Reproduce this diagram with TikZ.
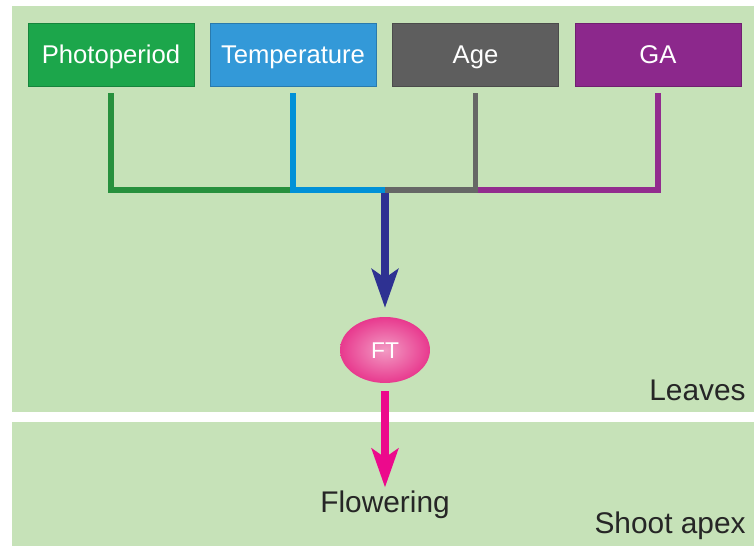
\documentclass[tikz,border=0pt]{standalone}
\usepackage{fontspec}
\setmainfont{Liberation Sans}
\usetikzlibrary{arrows.meta,shapes.geometric}

\definecolor{panelgreen}{HTML}{C6E2B8}
\definecolor{photofill}{HTML}{1CA64B}
\definecolor{tempfill}{HTML}{3399D8}
\definecolor{agefill}{HTML}{5E5E5E}
\definecolor{gafill}{HTML}{8C288C}
\definecolor{photoline}{HTML}{27903D}
\definecolor{templine}{HTML}{0091D7}
\definecolor{ageline}{HTML}{666766}
\definecolor{galine}{HTML}{922C8E}
\definecolor{navyarrow}{HTML}{2E3192}
\definecolor{pinkarrow}{HTML}{EC0A8C}
\definecolor{ftpink}{HTML}{E8398E}
\definecolor{ftlight}{HTML}{F29AC3}

\tikzset{
  factor/.style={minimum width=3.32cm, minimum height=1.26cm, inner sep=0pt,
    text=white, font=\fontsize{14.6}{17}\selectfont, text height=10.4pt, text depth=0pt},
  link/.style={line width=3.4pt, line cap=butt, line join=miter},
  bigarrow/.style={line width=4.5pt, -{Stealth[length=22pt, width=15pt, inset=5pt]}},
  tissue/.style={font=\fontsize{17}{20}\selectfont, text=black!85, inner sep=0pt}
}

\begin{document}
\begin{tikzpicture}[x=0.02cm, y=-0.02cm]
    \useasboundingbox (0,0) rectangle (754,546);

    % === tissue panels ===
    \fill[panelgreen] (12,6) rectangle (754,412);
    \fill[panelgreen] (12,422) rectangle (754,546);

    % === input pathways ===
    \node[factor, fill=photofill, draw=photofill!80!black] (photo) at (111,54.5) {Photoperiod};
    \node[factor, fill=tempfill, draw=tempfill!80!black] (temp) at (293,54.5) {Temperature};
    \node[factor, fill=agefill, draw=agefill!80!black] (age) at (475.5,54.5) {Age};
    \node[factor, fill=gafill, draw=gafill!80!black] (ga) at (658,54.5) {GA};

    % === FT and output ===
    \node[ellipse, minimum width=1.8cm, minimum height=1.32cm, inner sep=0pt,
      inner color=ftlight, outer color=ftpink, text=white,
      font=\fontsize{13}{15}\selectfont, text height=9.3pt, text depth=0pt] (ft) at (385,350) {FT};
    \node[tissue, anchor=base] (flow) at (385,513) {Flowering};
    \node[tissue, anchor=base east] (leaves) at (746,401) {Leaves};
    \node[tissue, anchor=base east] (apex) at (746,534) {Shoot apex};

    % junction points on the bar
    \coordinate (bar) at (385,190);
    \coordinate (jt) at (293,190);
    \coordinate (ja) at (475.5,190);

    % === arrows ===
    \draw[bigarrow, navyarrow, shorten >=5pt] (bar) -- (bar |- ft.north);
    \draw[bigarrow, pinkarrow, shorten <=4.5pt, shorten >=2pt] (ft.south) -- (ft.south |- flow.north);

    % === converging lines ===
    \draw[link, photoline, shorten <=4pt] (photo.south) |- (jt);
    \draw[link, galine, shorten <=4pt] (ga.south) |- (ja);
    \draw[link, templine, shorten <=4pt] (temp.south) |- (bar);
    \draw[link, ageline, shorten <=4pt] (age.south) |- (bar);
\end{tikzpicture}
\end{document}
